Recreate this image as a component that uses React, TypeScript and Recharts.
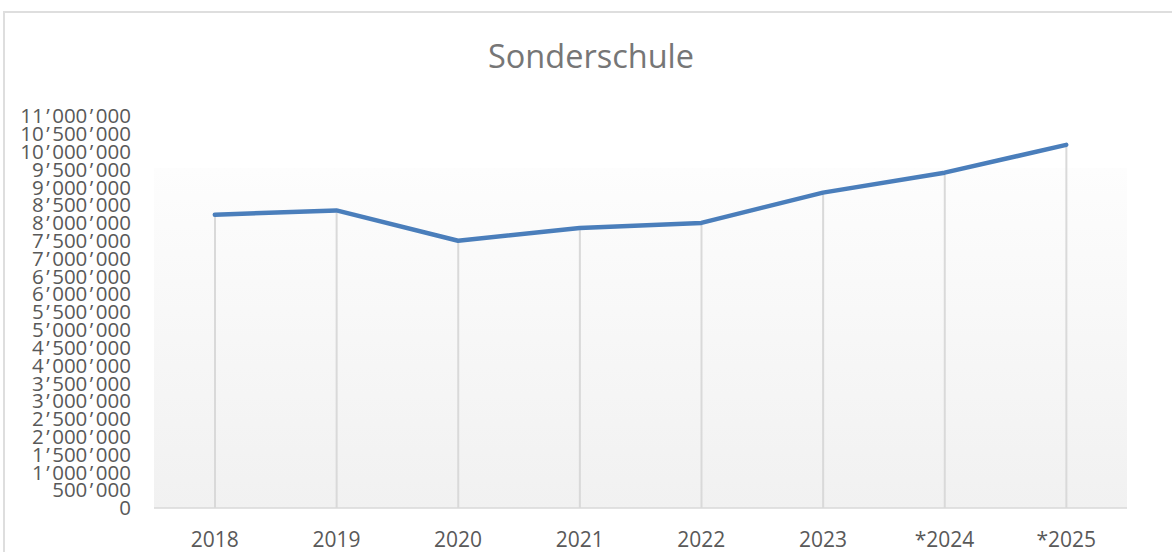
import { ComposedChart, Line, Bar, XAxis, YAxis } from 'recharts';

const years = ['2018', '2019', '2020', '2021', '2022', '2023', '*2024', '*2025'];
const amounts = [8230000, 8350000, 7500000, 7860000, 8000000, 8850000, 9410000, 10190000];
const yTicks = [
  0, 500000, 1000000, 1500000, 2000000, 2500000, 3000000, 3500000, 4000000, 4500000,
  5000000, 5500000, 6000000, 6500000, 7000000, 7500000, 8000000, 8500000, 9000000,
  9500000, 10000000, 10500000, 11000000,
];

const data = years.map((year, i) => ({ year, amount: amounts[i] }));

const fmt = (n: number) => String(n).replace(/\B(?=(\d{3})+(?!\d))/g, '\u2019');

const font = '"Open Sans", sans-serif';
const tickStyle = { fontSize: 21, fill: '#595959', fontFamily: font };

// excel's apostrophe separator sits wider than open sans' one
function YTick(props: any) {
  const { x, y, payload } = props;
  const parts = fmt(payload.value).split('\u2019');
  return (
    <text
      x={x}
      y={y}
      dy="0.355em"
      textAnchor="end"
      fontSize={20.5}
      fill="#595959"
      fontFamily={font}
    >
      {parts.map((p, i) =>
        i === 0 ? (
          <tspan key={i}>{p}</tspan>
        ) : (
          <tspan key={i}>
            <tspan dx={2.5}>{'\u2019'}</tspan>
            <tspan dx={2.5}>{p}</tspan>
          </tspan>
        ),
      )}
    </text>
  );
}

export default function App() {
  return (
    <div
      style={{
        position: 'fixed',
        left: 0,
        top: 0,
        width: 1172,
        height: 552,
        overflow: 'hidden',
        background: '#fff',
      }}
    >
      {/* chart frame */}
      <div
        style={{
          position: 'absolute',
          left: 3,
          top: 11,
          width: 1200,
          height: 600,
          border: '2px solid #dedede',
          boxSizing: 'border-box',
        }}
      />
      {/* plot area gradient */}
      <div
        style={{
          position: 'absolute',
          left: 154,
          top: 168,
          width: 973,
          height: 340,
          background: 'linear-gradient(#fdfdfd, #f1f1f1)',
        }}
      />
      <div
        style={{
          position: 'absolute',
          left: 0,
          width: 1182,
          top: 33,
          textAlign: 'center',
          fontFamily: font,
          fontSize: 32.5,
          color: '#767676',
        }}
      >
        Sonderschule
      </div>
      <div style={{ position: 'absolute', left: 0, top: 0 }}>
        <ComposedChart
          width={1172}
          height={552}
          data={data}
          margin={{ top: 116, right: 45, bottom: 0, left: 0 }}
        >
          <XAxis
            dataKey="year"
            tickLine={false}
            axisLine={{ stroke: '#d9d9d9', strokeWidth: 1.5 }}
            tick={tickStyle}
            tickMargin={18}
            height={44}
            interval={0}
          />
          <YAxis
            domain={[0, 11000000]}
            ticks={yTicks}
            tickLine={false}
            axisLine={false}
            tick={<YTick />}
            tickMargin={17}
            width={154}
            interval={0}
          />
          <Bar dataKey="amount" barSize={2} fill="#d9d9d9" isAnimationActive={false} />
          <Line
            type="linear"
            dataKey="amount"
            stroke="#4a7ebb"
            strokeWidth={4.5}
            strokeLinecap="round"
            strokeLinejoin="round"
            dot={false}
            activeDot={false}
            isAnimationActive={false}
          />
        </ComposedChart>
      </div>
    </div>
  );
}
